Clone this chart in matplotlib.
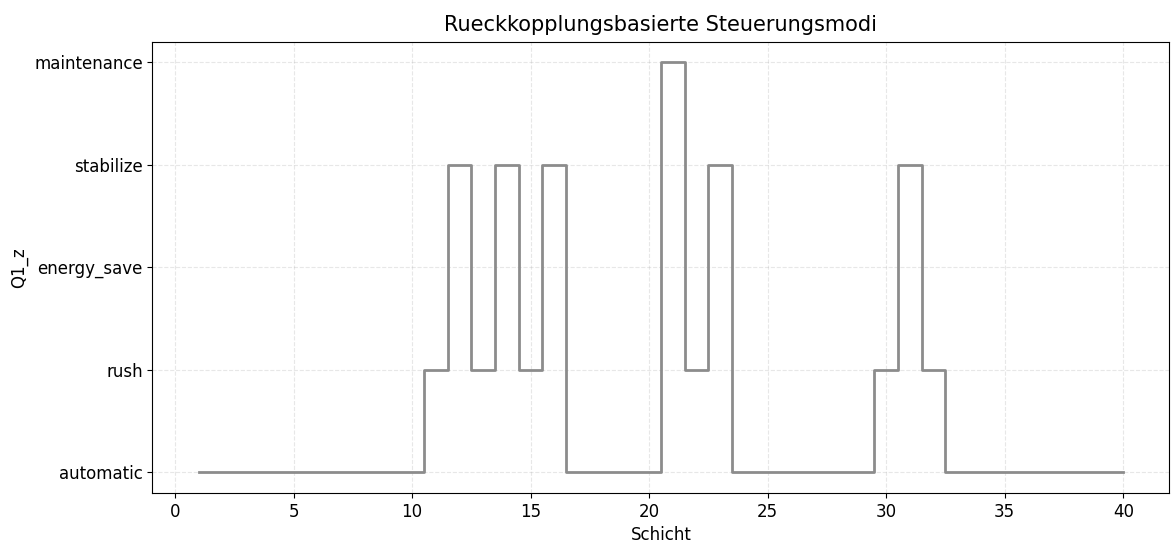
import matplotlib
matplotlib.use("Agg")
import matplotlib.pyplot as plt

# mode per shift (Schicht 1..40)
modes = ["automatic", "rush", "energy_save", "stabilize", "maintenance"]
shifts = list(range(1, 41))
shift_modes = (
    ["automatic"] * 10
    + ["rush", "stabilize", "rush", "stabilize", "rush", "stabilize"]
    + ["automatic"] * 4
    + ["maintenance", "rush", "stabilize"]
    + ["automatic"] * 6
    + ["rush", "stabilize", "rush"]
    + ["automatic"] * 8
)

mode_idx = [modes.index(m) for m in shift_modes]

fig, ax = plt.subplots(figsize=(11.73, 5.57), dpi=100)
ax.plot(shifts, mode_idx, drawstyle="steps-mid", color="#8c8c8c", linewidth=2)

ax.set_yticks(range(len(modes)))
ax.set_yticklabels(modes, fontsize=12)
ax.tick_params(axis="x", labelsize=12)
ax.set_xlabel("Schicht", fontsize=12)
ax.set_ylabel("Q1_z", fontsize=12)
ax.set_title("Rueckkopplungsbasierte Steuerungsmodi", fontsize=15, pad=8)
ax.grid(True, linestyle="--", alpha=0.3)

fig.subplots_adjust(left=0.13, right=0.997, top=0.925, bottom=0.115)
fig.savefig("out.png")
